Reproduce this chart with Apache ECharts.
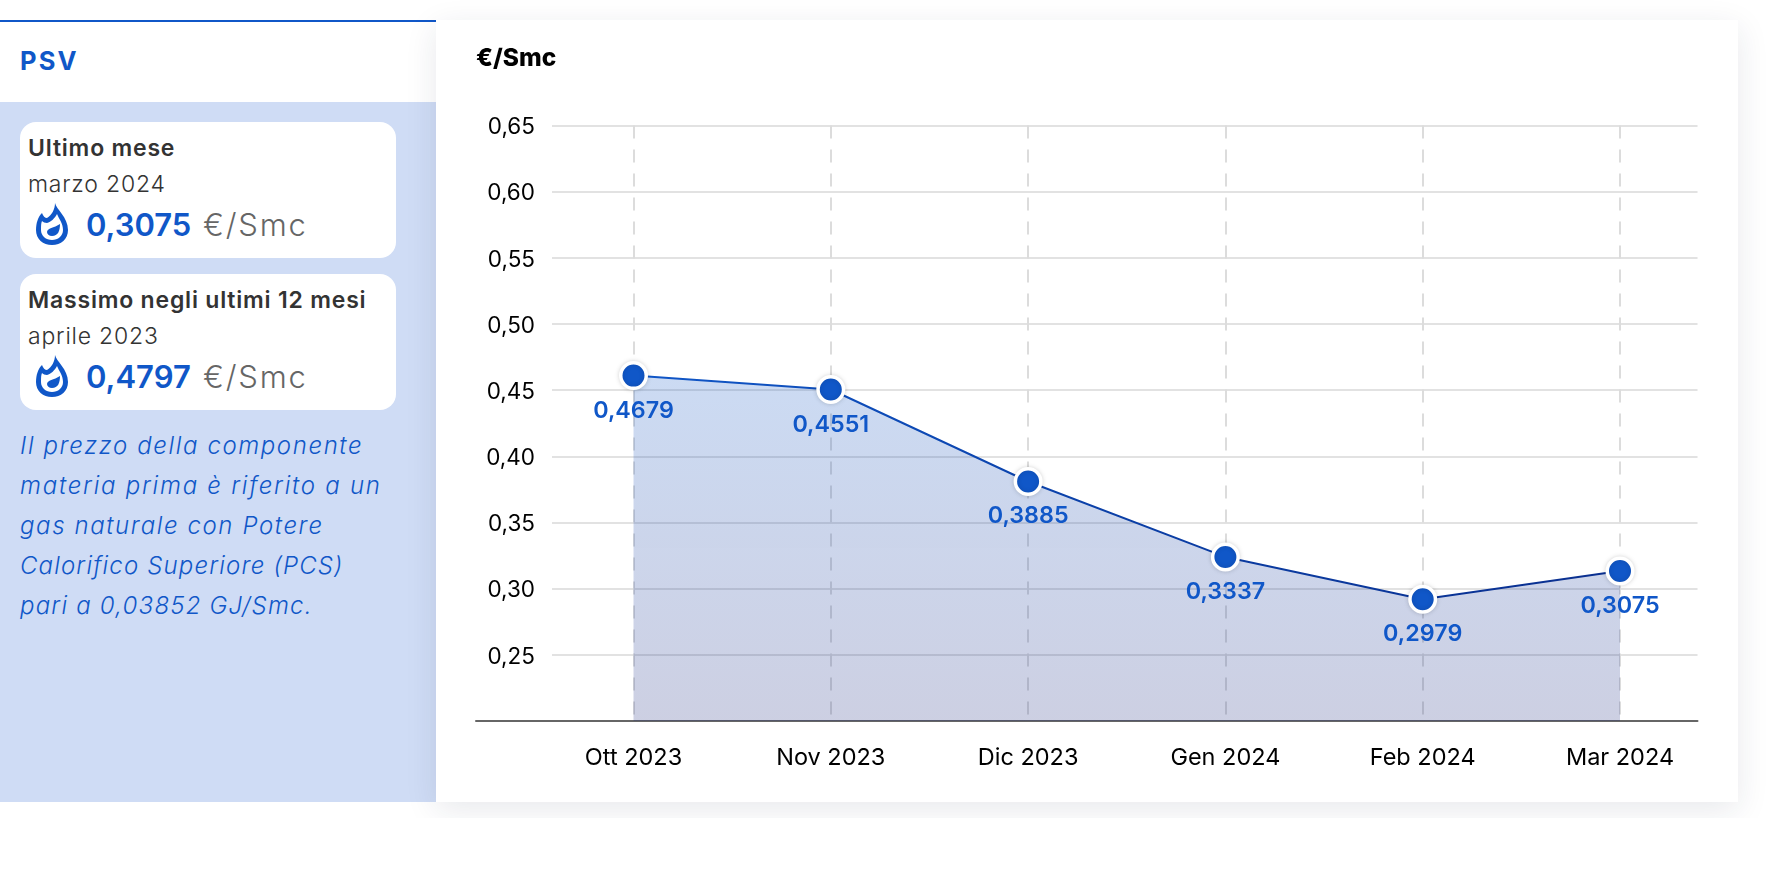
<!DOCTYPE html>
<html lang="it"><head><meta charset="utf-8"><title>PSV</title>
<script src="https://cdn.jsdelivr.net/npm/echarts@6/dist/echarts.min.js"></script>
<style>
html,body{margin:0;padding:0;background:#fff;width:1766px;height:882px;overflow:hidden;font-family:Inter,"Noto Sans",sans-serif}
.abs{position:absolute}
#topline{left:0;top:20px;width:436px;height:2px;background:#1057c8}
#psv{left:20px;top:45px;font-size:25.5px;font-weight:700;color:#1057c8;letter-spacing:2.2px;line-height:32px}
#side{left:0;top:102px;width:436px;height:700px;background:#cfdcf5}
.box{left:20px;width:376px;height:136px;background:#fff;border-radius:16px}
.t1,.t2,.val,.unit{position:absolute;white-space:nowrap}
.t1{left:8px;top:12px;font-size:23px;line-height:28px;font-weight:600;color:#333;letter-spacing:.8px}
.t2{left:8px;top:48px;font-size:23px;line-height:28px;font-weight:300;color:#333;letter-spacing:.8px}
.val{left:66px;top:85px;font-size:31px;line-height:36px;font-weight:600;color:#1057c8}
.unit{left:183px;top:85px;font-size:31px;line-height:36px;font-weight:300;color:#666;letter-spacing:1.8px}
.box svg{position:absolute;left:16px;top:81px;width:32px;height:42px}
#note{left:20px;top:426px;width:400px;font-size:24px;line-height:40px;font-style:italic;font-weight:350;color:#1057c8;letter-spacing:1.6px;white-space:nowrap}
#card{left:436px;top:20px;width:1302px;height:782px;background:#fff;box-shadow:0 8px 30px rgba(30,40,70,.1);clip-path:inset(-30px -30px -16px -30px)}
#chart{left:436px;top:20px;width:1302px;height:782px}
</style></head><body>
<div class="abs" id="side"></div>
<div class="abs" id="topline"></div>
<div class="abs" id="psv">PSV</div>
<div class="abs box" style="top:122px"><div class="t1">Ultimo mese</div><div class="t2">marzo 2024</div>
<svg viewBox="0 0 32 42"><path d="M19 0C20 6 32 14 32 27C32 36 25 42 16 42C7 42 0 36 0 27C0 20 2 14 6 10C7 13 9 15 11 15C16 12 19 6 19 0Z" fill="#1057c8"/><path d="M21 11C19 15 15 19 11 20C9 20 7 19 6 18C5 20 5 23 5 27C5 33 10 37 16 37C22 37 27 33 27 27C27 20 23 16 21 11Z" fill="#fff"/><path d="M24 21C24 28 22 33 16 33C13 33 11 31 11 29C11 25 18 25 24 21Z" fill="#1057c8"/></svg>
<div class="val">0,3075</div><div class="unit">€/Smc</div></div>
<div class="abs box" style="top:274px"><div class="t1">Massimo negli ultimi 12 mesi</div><div class="t2">aprile 2023</div>
<svg viewBox="0 0 32 42"><path d="M19 0C20 6 32 14 32 27C32 36 25 42 16 42C7 42 0 36 0 27C0 20 2 14 6 10C7 13 9 15 11 15C16 12 19 6 19 0Z" fill="#1057c8"/><path d="M21 11C19 15 15 19 11 20C9 20 7 19 6 18C5 20 5 23 5 27C5 33 10 37 16 37C22 37 27 33 27 27C27 20 23 16 21 11Z" fill="#fff"/><path d="M24 21C24 28 22 33 16 33C13 33 11 31 11 29C11 25 18 25 24 21Z" fill="#1057c8"/></svg>
<div class="val">0,4797</div><div class="unit">€/Smc</div></div>
<div class="abs" id="note"><div>Il prezzo della componente</div><div style="letter-spacing:1.75px">materia prima è riferito a un</div><div>gas naturale con Potere</div><div style="letter-spacing:1.15px">Calorifico Superiore (PCS)</div><div style="letter-spacing:1.2px">pari a 0,03852 GJ/Smc.</div></div>
<div class="abs" id="card"></div>
<div class="abs" id="chart"></div>
<script>
const categories = ['Ott 2023','Nov 2023','Dic 2023','Gen 2024','Feb 2024','Mar 2024'];
const plottedValues = [0.461, 0.4505, 0.381, 0.324, 0.292, 0.3133];
const valueLabels = ['0,4679','0,4551','0,3885','0,3337','0,2979','0,3075'];
const yMin = 0.2, yMax = 0.65, yStep = 0.05;
const unitTitle = '€/Smc';

const font = 'Inter';
const chart = echarts.init(document.getElementById('chart'));
const yBase = {type:'value',min:yMin,max:yMax,interval:yStep,axisLine:{show:false},axisTick:{show:false}};
chart.setOption({
  animation:false,
  title:{text:unitTitle,left:40,top:26,padding:0,textStyle:{fontFamily:font,fontSize:24.5,fontWeight:800,color:'#000'}},
  grid:[
    {left:116,right:40.5,top:105.5,bottom:81},
    {left:197.5,right:118,top:105.5,bottom:81},
    {left:40,right:40.5,top:105.5,bottom:81}
  ],
  xAxis:[
    {gridIndex:0,type:'category',data:categories,show:false},
    {gridIndex:1,type:'category',data:categories,boundaryGap:false,
      axisLine:{show:false},axisTick:{show:false},
      axisLabel:{color:'#000',fontFamily:font,fontSize:23.5,margin:25,interval:0,hideOverlap:false},
      splitLine:{show:true,interval:0,lineStyle:{color:'#dcdcdc',width:2,type:[13,11]}}},
    {gridIndex:2,type:'category',data:categories,axisLine:{show:true,lineStyle:{color:'#666',width:2}},axisTick:{show:false},axisLabel:{show:false},splitLine:{show:false}}
  ],
  yAxis:[
    Object.assign({gridIndex:0,axisLabel:{margin:17,showMinLabel:false,
      rich:{a:{color:'#000',fontFamily:font,fontSize:22.5,padding:[4,0,0,0]}},
      formatter:v=>'{a|'+v.toFixed(2).replace('.',',')+'}'},
      splitLine:{show:true,lineStyle:{color:'#e2e2e2',width:2}}},yBase),
    Object.assign({gridIndex:1,show:false,splitLine:{show:false}},yBase),
    Object.assign({gridIndex:2,show:false,splitLine:{show:false}},yBase)
  ],
  series:[{
    type:'line',xAxisIndex:1,yAxisIndex:1,data:plottedValues,z:5,
    symbol:'circle',symbolSize:25.5,showAllSymbol:true,
    lineStyle:{width:2,color:new echarts.graphic.LinearGradient(0,0,1,0,[{offset:0,color:'#1057c8'},{offset:.5,color:'#0b3fa6'},{offset:1,color:'#0a2f8f'}])},
    itemStyle:{color:'#1057c8',borderColor:'#fff',borderWidth:3.5,shadowColor:'rgba(0,0,0,.15)',shadowBlur:5},
    areaStyle:{opacity:1,color:new echarts.graphic.LinearGradient(0,0,0,1,[{offset:0,color:'rgba(16,87,200,.215)'},{offset:1,color:'rgba(16,30,120,.21)'}])},
    label:{show:true,position:'bottom',distance:9,color:'#1057c8',fontFamily:font,fontSize:23.3,fontWeight:600,
      formatter:p=>valueLabels[p.dataIndex]}
  }]
});
</script>
</body></html>
